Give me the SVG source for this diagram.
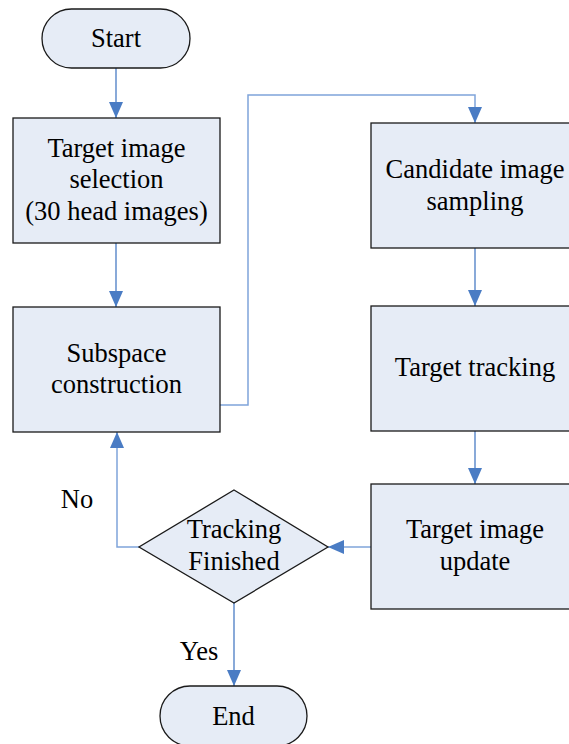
<svg xmlns="http://www.w3.org/2000/svg" width="569" height="744" viewBox="0 0 569 744">
<defs>
<marker id="b" viewBox="0 0 16 14" refX="16" refY="7" markerWidth="16" markerHeight="14" markerUnits="userSpaceOnUse" orient="auto">
<path d="M0,0 L16,7 L0,14 z" fill="#4A7CC4"/>
</marker>
</defs>
<g id="connectors" fill="none">
<path stroke="#4A7CC4" stroke-width="1.3" d="M116,68 V118" marker-end="url(#b)"/>
<path stroke="#4A7CC4" stroke-width="1.3" d="M116,243 V307" marker-end="url(#b)"/>
<path stroke="#7FA4DA" stroke-width="1.5" d="M220,405 H248 V95 H475 V123" marker-end="url(#b)"/>
<path stroke="#4A7CC4" stroke-width="1.3" d="M475,248 V306" marker-end="url(#b)"/>
<path stroke="#4A7CC4" stroke-width="1.3" d="M475,420 V484" marker-end="url(#b)"/>
<path stroke="#7FA4DA" stroke-width="1.5" d="M371,547 H328" marker-end="url(#b)"/>
<path stroke="#7FA4DA" stroke-width="1.5" d="M139,547 H117 V432" marker-end="url(#b)"/>
<path stroke="#4A7CC4" stroke-width="1.3" d="M234,603 V686" marker-end="url(#b)"/>
</g>
<g id="start"><rect fill="#E6ECF6" stroke="#1a1a1a" stroke-width="1.3" x="42" y="9" width="148" height="59" rx="29.5"/><text font-family="Liberation Serif" font-size="26.5" text-anchor="middle" x="116" y="47">Start</text></g>
<g id="select"><rect fill="#E6ECF6" stroke="#1a1a1a" stroke-width="1.3" x="13" y="118" width="207" height="125"/><text font-family="Liberation Serif" font-size="26.5" text-anchor="middle" x="116.5" y="157">Target image</text><text font-family="Liberation Serif" font-size="26.5" text-anchor="middle" x="116.5" y="188">selection</text><text font-family="Liberation Serif" font-size="26.5" text-anchor="middle" x="116.5" y="220">(30 head images)</text></g>
<g id="subspace"><rect fill="#E6ECF6" stroke="#1a1a1a" stroke-width="1.3" x="13" y="307" width="207" height="125"/><text font-family="Liberation Serif" font-size="26.5" text-anchor="middle" x="116.5" y="362">Subspace</text><text font-family="Liberation Serif" font-size="26.5" text-anchor="middle" x="116.5" y="393">construction</text></g>
<g id="candidate"><rect fill="#E6ECF6" stroke="#1a1a1a" stroke-width="1.3" x="371" y="123" width="210" height="125"/><text font-family="Liberation Serif" font-size="26.5" text-anchor="middle" x="475" y="178">Candidate image</text><text font-family="Liberation Serif" font-size="26.5" text-anchor="middle" x="475" y="210">sampling</text></g>
<g id="tracking"><rect fill="#E6ECF6" stroke="#1a1a1a" stroke-width="1.3" x="371" y="306" width="210" height="125"/><text font-family="Liberation Serif" font-size="26.5" text-anchor="middle" x="475" y="376">Target tracking</text></g>
<g id="update"><rect fill="#E6ECF6" stroke="#1a1a1a" stroke-width="1.3" x="371" y="484" width="210" height="125"/><text font-family="Liberation Serif" font-size="26.5" text-anchor="middle" x="475" y="538">Target image</text><text font-family="Liberation Serif" font-size="26.5" text-anchor="middle" x="475" y="570">update</text></g>
<g id="decision"><polygon fill="#E6ECF6" stroke="#1a1a1a" stroke-width="1.3" points="234,490 328,547 234,603 139,547"/><text font-family="Liberation Serif" font-size="26.5" text-anchor="middle" x="234" y="538">Tracking</text><text font-family="Liberation Serif" font-size="26.5" text-anchor="middle" x="234" y="570">Finished</text></g>
<g id="end"><rect fill="#E6ECF6" stroke="#1a1a1a" stroke-width="1.3" x="160" y="686" width="147" height="60" rx="30"/><text font-family="Liberation Serif" font-size="26.5" text-anchor="middle" x="233.5" y="725">End</text></g>
<text font-family="Liberation Serif" font-size="26.5" text-anchor="middle" x="77" y="508">No</text>
<text font-family="Liberation Serif" font-size="26.5" text-anchor="middle" x="199" y="660">Yes</text>
</svg>
